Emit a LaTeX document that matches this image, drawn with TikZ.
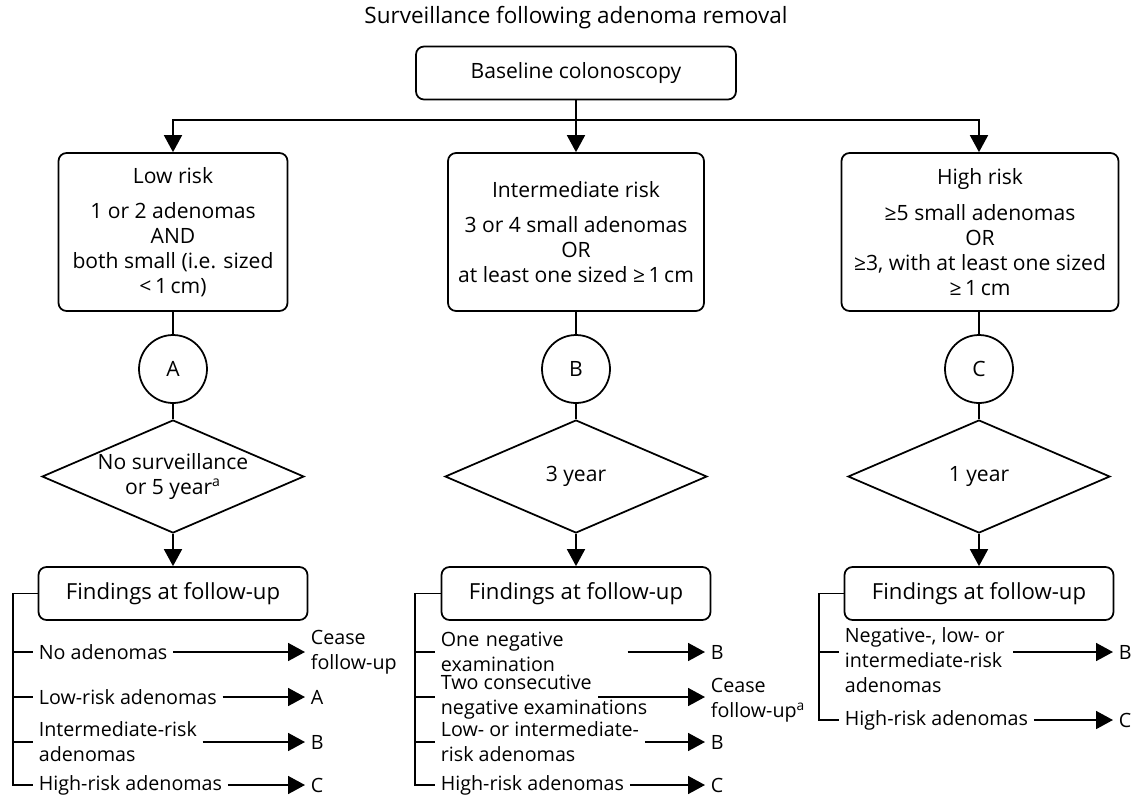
\documentclass[tikz,border=0pt]{standalone}
\usepackage{fontspec}
\setmainfont{Open Sans}
\usepackage{tikz}
\usetikzlibrary{positioning}
\usetikzlibrary{arrows.meta}
\usetikzlibrary{shapes}
\tikzset{box/.style={draw, rounded corners=0.16cm, align=center, inner sep=0pt}}
\tikzset{rowtxt/.style={anchor=west, align=left, inner xsep=0.1cm, inner ysep=1pt, font=\fontsize{11.2}{14.2}\selectfont}}
\tikzset{res/.style={anchor=west, align=left, inner xsep=0.1cm, inner ysep=1pt, font=\fontsize{11.2}{14.2}\selectfont}}
\tikzset{arr/.style={-{Triangle[length=0.34cm,width=0.36cm]}}}
\tikzset{letter/.style={draw, circle, minimum size=1.36cm, inner sep=0pt}}
\tikzset{choice/.style={draw, diamond, shape aspect=2.32, minimum width=5.24cm, minimum height=2.26cm, inner sep=0pt, align=center}}

\begin{document}
\begin{tikzpicture}[x=0.02cm, y=-0.02cm, line width=1pt, font=\fontsize{12}{14.2}\selectfont]
\useasboundingbox (0,0) rectangle (1137,796);

\node[font=\fontsize{12.8}{15}\selectfont] (title) at (576,18) {Surveillance following adenoma removal};
\node[box, minimum width=6.4cm, minimum height=1.06cm] (base) at (576,73) {Baseline colonoscopy};
\coordinate (split) at (576,120);

\node[box, minimum width=4.58cm, minimum height=3.16cm] (low) at (173,232)
  {Low risk\\[6pt]1 or 2 adenomas\\AND\\both small (i.e. sized\\<\,1\,cm)};
\node[box, minimum width=5.12cm, minimum height=3.16cm] (mid) at (576,232)
  {Intermediate risk\\[6pt]3 or 4 small adenomas\\OR\\at least one sized ≥\,1\,cm};
\node[box, minimum width=5.54cm, minimum height=3.16cm] (high) at (980,232)
  {High risk\\[6pt]≥5 small adenomas\\OR\\≥3, with at least one sized\\≥\,1\,cm};

\node[letter] (cA) at (173,369) {A};
\node[letter] (cB) at (576,369) {B};
\node[letter] (cC) at (979,369) {C};

\node[choice] (dA) at (173,476.5) {No surveillance\\or 5 year\textsuperscript{a}};
\node[choice] (dB) at (576,476.5) {3 year};
\node[choice] (dC) at (979,476.5) {1 year};

\node[box, minimum width=5.38cm, minimum height=1.06cm, font=\fontsize{12.6}{15}\selectfont] (fA) at (173,593.5) {Findings at follow-up};
\node[box, minimum width=5.38cm, minimum height=1.06cm, font=\fontsize{12.6}{15}\selectfont] (fB) at (576,593.5) {Findings at follow-up};
\node[box, minimum width=5.38cm, minimum height=1.06cm, font=\fontsize{12.6}{15}\selectfont] (fC) at (979,593.5) {Findings at follow-up};

\draw (base.south) -- (split);
\draw[arr] (split) -| (low.north);
\draw[arr] (base.south) -- (mid.north);
\draw[arr] (split) -| (cC |- high.north);

\draw (low) -- (cA);
\draw (cA) -- (dA);
\draw[arr] (dA) -- (fA);
\draw (mid) -- (cB);
\draw (cB) -- (dB);
\draw[arr] (dB) -- (fB);
\draw (cC |- high.south) -- (cC);
\draw (cC) -- (dC);
\draw[arr] (dC) -- (fC);

% low risk follow-up
\coordinate (kA) at (13,593.5);
\node[rowtxt] (a1) at (33,652) {No adenomas};
\node[rowtxt] (a2) at (33,697) {Low-risk adenomas};
\node[rowtxt] (a3) at (33,742) {Intermediate-risk\\adenomas};
\node[rowtxt] (a4) at (33,785) {High-risk adenomas};
\node[res] (ra1) at (305,652) {Cease\\follow-up};
\node[res] (ra2) at (305,697) {A};
\node[res] (ra3) at (305,742) {B};
\node[res] (ra4) at (305,785) {C};
\draw (fA.west) -- (kA) |- (a4.west);
\draw (kA |- a1.west) -- (a1.west);
\draw (kA |- a2.west) -- (a2.west);
\draw (kA |- a3.west) -- (a3.west);
\draw[arr] (a1) -- (ra1);
\draw[arr] (a2) -- (ra2);
\draw[arr] (a3) -- (ra3);
\draw[arr] (a4) -- (ra4);

% intermediate risk follow-up
\coordinate (kB) at (415,593.5);
\node[rowtxt, text width=3.62cm] (b1) at (435,652) {One negative\\examination};
\node[rowtxt] (b2) at (435,697) {Two consecutive\\negative examinations};
\coordinate (b2s) at (598,697);
\node[rowtxt] (b3) at (435,742) {Low- or intermediate-\\risk adenomas};
\node[rowtxt] (b4) at (435,785) {High-risk adenomas};
\node[res] (rb1) at (705,652) {B};
\node[res] (rb2) at (705,700) {Cease\\follow-up\textsuperscript{a}};
\node[res] (rb3) at (705,742) {B};
\node[res] (rb4) at (705,785) {C};
\draw (fB.west) -- (kB) |- (b4.west);
\draw (kB |- b1.west) -- (b1.west);
\draw (kB |- b2.west) -- (b2.west);
\draw (kB |- b3.west) -- (b3.west);
\draw[arr] (b1) -- (rb1);
\draw[arr] (b2s) -- (rb2.west |- b2s);
\draw[arr] (b3) -- (rb3);
\draw[arr] (b4) -- (rb4);

% high risk follow-up
\coordinate (kC) at (819,593.5);
\node[rowtxt] (c1) at (839,660) {Negative-, low- or\\intermediate-risk\\adenomas};
\coordinate (c1t) at (839,652);
\coordinate (c1s) at (1013,652);
\node[rowtxt] (c2) at (839,720) {High-risk adenomas};
\node[res] (rc1) at (1113,652) {B};
\node[res] (rc2) at (1113,720) {C};
\draw (fC.west) -- (kC) |- (c2.west);
\draw (kC |- c1t) -- (c1t);
\draw[arr] (c1s) -- (rc1);
\draw[arr] (c2) -- (rc2);
\end{tikzpicture}
\end{document}
